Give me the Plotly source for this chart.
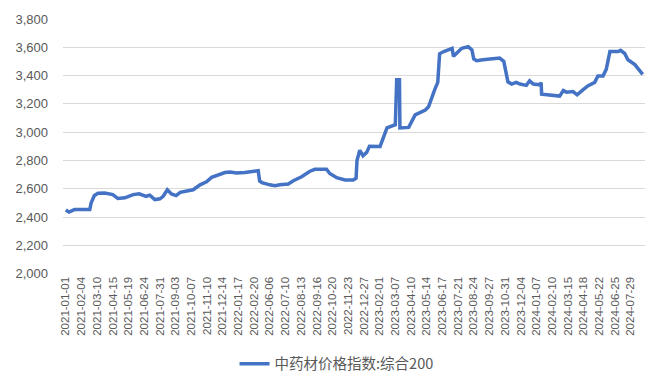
import plotly.graph_objects as go

# 中药材价格指数:综合200 — daily index, key turning points
dates = [
    "2021-01-01", "2021-01-08", "2021-01-20", "2021-02-22", "2021-02-25", "2021-03-04",
    "2021-03-12", "2021-03-26", "2021-04-15", "2021-04-26", "2021-05-11", "2021-05-29",
    "2021-06-11", "2021-06-28", "2021-07-06", "2021-07-17", "2021-07-31", "2021-08-07",
    "2021-08-16", "2021-08-25", "2021-09-04", "2021-09-13", "2021-09-30", "2021-10-11",
    "2021-10-26", "2021-11-09", "2021-11-20", "2021-12-04", "2021-12-19", "2021-12-30",
    "2022-01-13", "2022-01-31", "2022-02-15", "2022-02-27", "2022-03-01", "2022-03-04",
    "2022-03-09", "2022-06-06", "2022-06-17", "2022-06-28", "2022-07-16", "2022-07-27",
    "2022-08-14", "2022-09-01", "2022-09-12", "2022-10-07", "2022-10-14", "2022-10-29",
    "2022-11-16", "2022-12-04", "2022-12-10", "2022-12-12", "2022-12-18", "2022-12-25",
    "2023-01-02", "2023-01-08", "2023-02-02", "2023-02-17", "2023-02-27", "2023-03-07",
    "2023-03-10", "2023-03-16", "2023-03-17", "2023-04-05", "2023-04-19", "2023-05-11",
    "2023-05-18", "2023-05-25", "2023-06-01", "2023-06-07", "2023-06-11", "2023-06-20",
    "2023-07-08", "2023-07-11", "2023-07-21", "2023-07-29", "2023-08-12", "2023-08-20",
    "2023-08-24", "2023-08-30", "2023-09-13", "2023-10-19", "2023-10-28", "2023-11-03",
    "2023-11-06", "2023-11-14", "2023-11-24", "2023-12-02", "2023-12-16", "2023-12-23",
    "2023-12-31", "2024-01-14", "2024-01-17", "2024-01-18", "2024-02-05", "2024-02-26",
    "2024-03-05", "2024-03-12", "2024-03-26", "2024-04-04", "2024-04-17", "2024-04-28",
    "2024-05-12", "2024-05-19", "2024-05-30", "2024-06-06", "2024-06-14", "2024-07-02",
    "2024-07-07", "2024-07-16", "2024-07-23", "2024-08-07", "2024-08-24",
]
values = [
    2450, 2436, 2453, 2453, 2501, 2552,
    2568, 2570, 2559, 2531, 2536, 2559,
    2565, 2547, 2555, 2524, 2529, 2547,
    2593, 2563, 2552, 2575, 2586, 2593,
    2628, 2650, 2681, 2697, 2715, 2719,
    2712, 2715, 2724, 2731, 2728, 2655,
    2644, 2628, 2621, 2628, 2634, 2657,
    2685, 2724, 2738, 2738, 2708, 2678,
    2662, 2662, 2674, 2800, 2872, 2834,
    2857, 2900, 2899, 3030, 3041, 3053,
    3370, 3370, 3030, 3034, 3122, 3157,
    3179, 3248, 3306, 3352, 3554, 3570,
    3593, 3536, 3565, 3593, 3605, 3581,
    3518, 3505, 3512, 3524, 3501, 3390,
    3356, 3340, 3352, 3340, 3331, 3363,
    3340, 3335, 3350, 3268, 3264, 3255,
    3294, 3283, 3287, 3264, 3301, 3329,
    3352, 3398, 3398, 3444, 3570, 3570,
    3578, 3556, 3512, 3478, 3409,
]

tick_labels = [
    "2021-01-01", "2021-02-04", "2021-03-10", "2021-04-15", "2021-05-19", "2021-06-24",
    "2021-07-31", "2021-09-03", "2021-10-07", "2021-11-10", "2021-12-14", "2022-01-17",
    "2022-02-20", "2022-06-06", "2022-07-10", "2022-08-13", "2022-09-16", "2022-10-20",
    "2022-11-23", "2022-12-27", "2023-02-01", "2023-03-07", "2023-04-10", "2023-05-14",
    "2023-06-17", "2023-07-21", "2023-08-24", "2023-09-27", "2023-10-31", "2023-12-04",
    "2024-01-07", "2024-02-10", "2024-03-15", "2024-04-18", "2024-05-22", "2024-06-25",
    "2024-07-29",
]

series_name = "中药材价格指数:综合200"
y_ticks = [2000, 2200, 2400, 2600, 2800, 3000, 3200, 3400, 3600, 3800]

# periods without published data, dropped from the time axis
gaps = [
    ["2021-04-03", "2021-04-05"],
    ["2021-06-12", "2021-06-14"],
    ["2021-07-24", "2021-07-27"],
    ["2022-03-10", "2022-05-21"],
    ["2023-01-21", "2023-01-23"],
]

font_family = "Liberation Sans, Noto Sans CJK SC, sans-serif"
grey = "#595959"

fig = go.Figure()
fig.add_trace(go.Scatter(
    x=dates, y=values, mode="lines", name=series_name,
    line=dict(color="#4472C4", width=3.5),
))

fig.update_layout(
    width=657, height=377,
    margin=dict(l=63, r=12, t=15, b=100),
    paper_bgcolor="white", plot_bgcolor="white",
    font=dict(family=font_family, color=grey),
    showlegend=True,
    legend=dict(
        orientation="h", xref="container", yref="container",
        x=0.357, xanchor="left", y=0.035, yanchor="middle",
        font=dict(size=14.5, color=grey, family="Noto Sans CJK SC, sans-serif"),
        itemwidth=30,
    ),
)

fig.update_xaxes(
    type="date",
    range=["2020-12-26", "2024-08-29"],
    rangebreaks=[dict(bounds=b) for b in gaps],
    tickmode="array", tickvals=tick_labels, ticktext=tick_labels,
    tickangle=-90, tickfont=dict(size=11.5, color=grey),
    showgrid=False, showline=False, ticks="", zeroline=False,
)
fig.update_yaxes(
    range=[2000, 3800],
    tickmode="array", tickvals=y_ticks,
    ticktext=[f"{v:,}" for v in y_ticks],
    tickfont=dict(size=13, color=grey),
    showgrid=True, gridcolor="#D9D9D9", gridwidth=1,
    zeroline=False, showline=False, ticks="",
    ticklabelstandoff=14,
)

fig.write_html("out.html")
